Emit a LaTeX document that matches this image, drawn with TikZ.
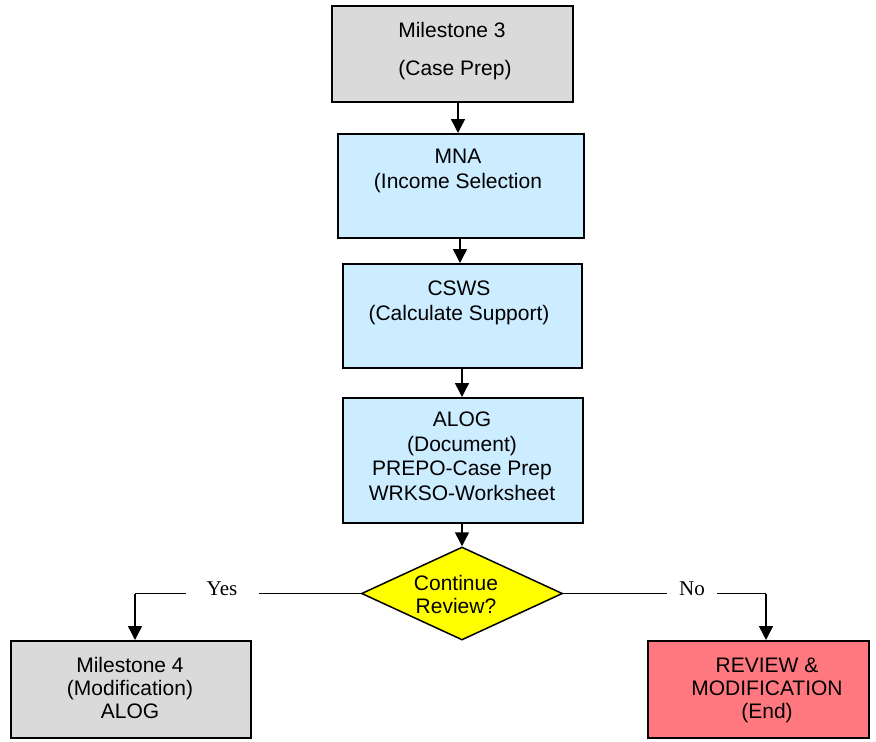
\documentclass[tikz,border=0pt]{standalone}
\usepackage{fontspec}
\setmainfont{Liberation Sans}
\newfontfamily\lblfont{Liberation Serif}
\usetikzlibrary{arrows.meta,shapes.geometric}
\definecolor{msgray}{HTML}{DADADA}
\definecolor{stepblue}{HTML}{CCECFF}
\definecolor{endred}{HTML}{FF7880}
\definecolor{decyellow}{HTML}{FFFF00}
\tikzset{
  box/.style={draw=black, line width=1.8pt, rectangle, inner sep=0pt, anchor=north west},
  txt/.style={align=center, anchor=base, inner sep=0pt, font=\fontsize{21}{24.5}\selectfont},
  tighttxt/.style={txt, font=\fontsize{21}{23}\selectfont},
  arr/.style={line width=1.5pt, -{Triangle[length=14pt,width=14pt]}},
  conn/.style={line width=1.5pt},
  lbl/.style={fill=white, inner xsep=0pt, inner ysep=2pt, font=\lblfont\fontsize{21}{24}\selectfont}
}
\begin{document}
\begin{tikzpicture}[x=1pt,y=-1pt]
\useasboundingbox (0,0) rectangle (876,742);
% boxes
\node[box, fill=msgray, minimum width=241pt, minimum height=96pt] (m3) at (331,5) {};
\node[box, fill=stepblue, minimum width=246pt, minimum height=104pt] (mna) at (337,133) {};
\node[box, fill=stepblue, minimum width=239pt, minimum height=104pt] (csws) at (342,263) {};
\node[box, fill=stepblue, minimum width=240pt, minimum height=125pt] (alog) at (342,397) {};
\node[draw=black, line width=1.5pt, diamond, fill=decyellow, inner sep=0pt, minimum width=201pt, minimum height=93pt] (dec) at (462,593.5) {};
\node[box, fill=msgray, minimum width=240pt, minimum height=97pt] (m4) at (10,640) {};
\node[box, fill=endred, minimum width=221pt, minimum height=97pt] (rev) at (647,640) {};
% texts (anchor base = baseline of the last line)
\node[txt] (m3a) at (452,37) {Milestone 3};
\node[txt] (m3b) at (455,75) {(Case Prep)};
\node[txt] (mnat) at (458,188) {MNA\\(Income Selection};
\node[txt] (cswst) at (459,320) {CSWS\\(Calculate Support)};
\node[txt] (alogt) at (462,500) {ALOG\\(Document)\\PREPO-Case Prep\\WRKSO-Worksheet};
\node[tighttxt] (dect) at (456,613) {Continue\\Review?};
\node[tighttxt] (m4t) at (130,718) {Milestone 4\\(Modification)\\ALOG};
\node[tighttxt] (revt) at (767,718) {REVIEW \&\\MODIFICATION\\(End)};
% arrow columns
\coordinate (c1) at (458,0);
\coordinate (c2) at (460,0);
\coordinate (c3) at (462,0);
\coordinate (c4) at (462,0);
\coordinate (yc) at (135,593.5);
\coordinate (nc) at (766,593.5);
% connectors
\draw[arr] (m3.south -| c1) -- (mna.north -| c1);
\draw[arr] (mna.south -| c2) -- (csws.north -| c2);
\draw[arr] (csws.south -| c3) -- (alog.north -| c3);
\draw[arr] (alog.south -| c4) -- (dec.north);
\draw[conn] (dec.west) -- (yc);
\draw[arr] (yc) -- (m4.north -| yc);
\draw[conn] (dec.east) -- (nc);
\draw[arr] (nc) -- (rev.north -| nc);
% labels
\node[lbl, minimum width=73pt] (yes) at (222,589) {Yes};
\node[lbl, minimum width=50pt] (no) at (692,589) {No};
\end{tikzpicture}
\end{document}
